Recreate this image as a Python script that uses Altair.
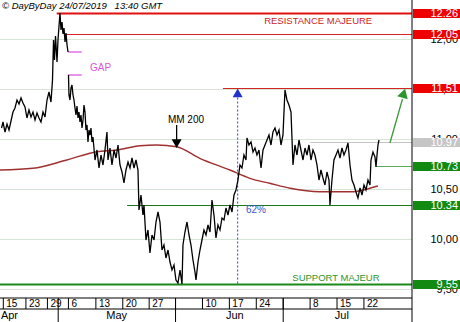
import altair as alt
import pandas as pd

# ---------------- data (x = trading-day index, 0 = 15 Apr 2019; y = price) -------------
pre_gap_t = [-0.33, -0.06, 0.32, 0.69, 1.06, 1.43, 1.80, 2.17, 2.55, 2.92, 3.29, 3.66, 4.03, 4.40,
             4.77, 5.15, 5.52, 5.89, 6.26, 6.63, 7.00, 7.38, 7.75, 8.12, 8.49, 8.86, 9.14, 9.33,
             9.51, 9.70, 9.98, 10.16, 10.53, 10.72, 10.91, 11.09, 11.28, 11.47, 11.65, 11.84, 12.02]
pre_gap_v = [11.115, 11.175, 11.075, 11.155, 11.095, 11.185, 11.275, 11.315, 11.395, 11.355, 11.415,
             11.365, 11.325, 11.215, 11.295, 11.225, 11.275, 11.195, 11.265, 11.215, 11.175, 11.275,
             11.225, 11.395, 11.475, 11.375, 11.595, 11.995, 11.795, 12.035, 11.775, 11.995, 12.265,
             12.095, 12.175, 12.055, 12.115, 11.975, 12.065, 11.945, 11.875]

post_gap_t = [12.11, 12.20, 12.39, 12.58, 12.76, 12.95, 13.13, 13.32, 13.50, 13.69, 13.88, 14.06, 14.25,
              14.43, 14.62, 14.81, 14.99, 15.18, 15.36, 15.55, 15.73, 15.92, 16.11, 16.29, 16.48, 16.66,
              17.04, 17.41, 17.78, 18.15, 18.52, 18.89, 19.26, 19.45, 19.82, 20.19, 20.57, 20.94, 21.31,
              21.68, 22.05, 22.42, 22.79, 23.17, 23.54, 23.91, 24.28, 24.65, 25.02, 25.21, 25.58, 25.95,
              26.14, 26.51, 26.88, 27.25, 27.62, 28.00, 28.37, 28.74, 29.11, 29.48, 29.85, 30.22, 30.60,
              30.97, 31.34, 31.71, 32.08, 32.45, 32.83, 33.20, 33.38, 33.75, 34.13, 34.50, 34.87, 35.24,
              35.61, 35.80, 36.17, 36.54, 36.91, 37.28, 37.66, 38.03, 38.40, 38.77, 39.14, 39.51, 39.88,
              40.26, 40.63, 41.00, 41.37, 41.74, 42.11, 42.49, 42.86, 43.23, 43.60, 43.97, 44.34, 44.71,
              45.09, 45.27, 45.64, 46.02, 46.39, 46.76, 47.13, 47.50, 47.88, 48.25, 48.62, 48.99, 49.36,
              49.73, 50.10, 50.48, 50.85, 51.22, 51.59, 51.96, 52.33, 52.70, 53.07, 53.45, 53.82, 54.19,
              54.56, 54.93, 55.30, 55.68, 56.05, 56.42, 56.79, 57.16, 57.53, 57.90, 58.28, 58.65, 59.02,
              59.39, 59.76, 60.13, 60.51, 60.69, 61.06, 61.43, 61.81, 62.18, 62.55, 62.92, 63.29, 63.66,
              64.04, 64.41, 64.78, 65.15, 65.52, 65.89, 66.27, 66.64, 67.01, 67.38, 67.75, 68.12, 68.31,
              68.68, 69.05, 69.24, 69.43, 69.61, 69.80]
post_gap_v = [11.645, 11.445, 11.395, 11.515, 11.545, 11.445, 11.395, 11.315, 11.245, 11.335, 11.215,
              11.275, 11.175, 11.245, 11.115, 11.195, 11.345, 11.275, 11.095, 11.145, 10.975, 11.095,
              11.045, 11.115, 10.975, 11.025, 10.795, 10.895, 10.715, 10.845, 10.745, 10.895, 11.075,
              10.795, 10.915, 10.745, 10.895, 10.815, 10.945, 10.745, 10.675, 10.565, 10.695, 10.775,
              10.715, 10.815, 10.715, 10.795, 10.695, 10.295, 10.445, 10.245, 10.345, 9.995, 10.095,
              9.865, 10.045, 9.995, 10.175, 10.275, 10.175, 9.895, 9.945, 9.815, 9.895, 9.775, 9.695,
              9.745, 9.595, 9.565, 9.695, 9.555, 9.945, 10.075, 10.175, 10.045, 9.945, 9.795, 9.675,
              9.595, 9.775, 9.895, 9.995, 10.095, 10.045, 10.145, 10.075, 10.395, 10.245, 10.015, 10.145,
              10.095, 10.215, 10.195, 10.315, 10.245, 10.345, 10.275, 10.445, 10.495, 10.595, 10.745,
              10.715, 10.845, 10.795, 11.015, 10.945, 10.975, 10.875, 10.915, 10.845, 10.895, 10.715,
              10.895, 10.945, 10.995, 11.045, 10.945, 11.075, 11.115, 11.045, 11.095, 10.945, 11.045,
              11.495, 11.395, 11.345, 11.275, 10.745, 10.945, 10.845, 10.995, 10.895, 10.795, 10.915,
              10.845, 10.945, 10.795, 10.895, 10.845, 10.745, 10.595, 10.695, 10.615, 10.545, 10.675,
              10.595, 10.345, 10.595, 10.795, 10.845, 10.895, 10.815, 10.915, 10.845, 10.895, 10.965,
              10.745, 10.595, 10.545, 10.475, 10.415, 10.515, 10.445, 10.545, 10.495, 10.595, 10.545,
              10.795, 10.875, 10.825, 10.725, 10.845, 10.945, 10.995]

mm200_t = [-0.61, 5.5, 11.8, 17.35, 21.07, 25.4, 28.5, 32.2, 36.5, 42.1, 45.8, 49.5, 53.3, 58.8, 65.0, 68.1, 69.6]
mm200_v = [10.695, 10.712, 10.795, 10.878, 10.895, 10.938, 10.945, 10.928, 10.812, 10.695, 10.612,
           10.562, 10.512, 10.478, 10.478, 10.512, 10.535]

level_value = [12.26, 12.05, 11.51, 10.97, 10.73, 10.34, 9.55]
level_label = ["12.26", "12.05", "11.51", "10.97", "10.73", "10.34", "9.55"]
level_start = [9.92, 11.46, 40.8, 57.0, 69.24, 23.0, -0.61]
level_color = ["#e01010", "#d42424", "#d42424", "#c4c4c4", "#5aaa5a", "#1a7a1a", "#1a8a1a"]
level_width = [2.0, 1.2, 1.2, 1.0, 1.2, 1.2, 2.2]
box_color = ["#ee0000", "#ee0000", "#ee0000", "#c6c6c6", "#128a12", "#128a12", "#128a12"]

gap_values = [11.875, 11.645]
gap_start, gap_end = 12.02, 14.56

week_t = [0, 4.2, 8.2, 12.1, 17.2, 22.2, 27.1, 32, 37, 42, 47, 52, 57, 62, 67]
week_label = ["15", "23", "29", "6", "13", "20", "27", "", "10", "17", "24", "", "8", "15", "22"]
month_sep_t = [10.2, 32, 52]
month_label = ["Apr", "May", "Jun", "Jul"]
month_t = [-0.45, 21.07, 43.0, 62.9]

y_ticks = [9.5, 10.0, 10.5, 11.0, 11.5, 12.0]
y_tick_labels = ["9,50", "10,00", "10,50", "11,00", "11,50", "12,00"]

X_DOMAIN = [-0.613, 75.93]
Y_DOMAIN = [9.415, 12.395]

# ---------------- frames -------------
price = pd.concat([
    pd.DataFrame({"t": pre_gap_t, "v": pre_gap_v, "seg": "a"}),
    pd.DataFrame({"t": post_gap_t, "v": post_gap_v, "seg": "b"}),
])
mm = pd.DataFrame({"t": mm200_t, "v": mm200_v})
levels = pd.DataFrame({"v": level_value, "label": level_label, "t": level_start,
                       "t2": [X_DOMAIN[1]] * len(level_value), "color": level_color,
                       "w": level_width, "box": box_color})
levels["top"] = levels["v"] + 0.046
levels["bot"] = levels["v"] - 0.046
gaps = pd.DataFrame({"v": gap_values, "t": [gap_start] * 2, "t2": [gap_end] * 2})
weeks = pd.DataFrame({"t": week_t, "label": week_label})
seps = pd.DataFrame({"t": month_sep_t})
months = pd.DataFrame({"t": month_t, "label": month_label})
yt = pd.DataFrame({"v": y_ticks, "label": y_tick_labels,
                   "t": [X_DOMAIN[0]] * len(y_ticks), "t2": [X_DOMAIN[1]] * len(y_ticks)})

xs = alt.Scale(domain=X_DOMAIN, nice=False, zero=False)
ys = alt.Scale(domain=Y_DOMAIN, nice=False, zero=False)


def X(f="t"):
    return alt.X(f + ":Q", scale=xs, axis=None)


def Y(f="v"):
    return alt.Y(f + ":Q", scale=ys, axis=None)


FONT = "Liberation Sans"

grid = alt.Chart(yt).mark_rule(color="#d6e6d6", strokeWidth=1).encode(x=X(), x2="t2:Q", y=Y())
y_labels = alt.Chart(yt).mark_text(align="right", baseline="middle", font=FONT, fontSize=11,
                                   color="black").encode(x=alt.value(458), y=Y(), text="label:N")

price_line = alt.Chart(price).mark_line(color="black", strokeWidth=1.3).encode(
    x=X(), y=Y(), detail="seg:N")

mm_line = alt.Chart(mm).mark_line(color="#a03030", strokeWidth=1.4, interpolate="monotone").encode(
    x=X(), y=Y())

level_lines = alt.Chart(levels).mark_rule().encode(
    x=X(), x2="t2:Q", y=Y(),
    color=alt.Color("color:N", scale=None),
    strokeWidth=alt.StrokeWidth("w:Q", scale=None))

gap_lines = alt.Chart(gaps).mark_rule(color="#e070e0", strokeWidth=1.5).encode(
    x=X(), x2="t2:Q", y=Y())

boxes = alt.Chart(levels).mark_rect().encode(
    x=alt.value(413), x2=alt.value(460), y=Y("top"), y2="bot:Q",
    color=alt.Color("box:N", scale=None))

box_text = alt.Chart(levels).mark_text(align="right", baseline="middle", font=FONT, fontSize=11,
                                       color="white").encode(
    x=alt.value(458), y=Y(), text="label:N")


def note(text, t, v, color, size=10, align="left", **kw):
    return alt.Chart(pd.DataFrame({"t": [t], "v": [v], "s": [text]})).mark_text(
        align=align, baseline="middle", font=FONT, fontSize=size, color=color, **kw).encode(
        x=X(), y=Y(), text="s:N")


notes = [
    note("GAP", 16.1, 11.715, "#dd55dd", 10),
    note("RESISTANCE MAJEURE", 58.5, 12.19, "#cc2222", 9.5, "center"),
    note("SUPPORT MAJEUR", 61.8, 9.62, "#2e962e", 9.5, "center"),
    note("MM 200", 33.94, 11.195, "black", 10, "center"),
    note("62%", 45.09, 10.295, "#3355cc", 10),
]

mm_arrow = alt.Chart(pd.DataFrame({"t": [32.2], "v": [11.145], "v2": [10.99]})).mark_rule(
    color="black", strokeWidth=1.3).encode(x=X(), y=Y(), y2="v2:Q")
mm_head = alt.Chart(pd.DataFrame({"t": [32.2], "v": [10.958]})).mark_point(
    shape="triangle-down", filled=True, color="black", size=100, opacity=1).encode(x=X(), y=Y())

fib_line = alt.Chart(pd.DataFrame({"t": [43.54], "v": [11.42], "v2": [9.56]})).mark_rule(
    color="#3344bb", strokeWidth=1, strokeDash=[2, 2]).encode(x=X(), y=Y(), y2="v2:Q")
fib_head = alt.Chart(pd.DataFrame({"t": [43.54], "v": [11.467]})).mark_point(
    shape="triangle-up", filled=True, color="#2233cc", size=100, opacity=1).encode(x=X(), y=Y())

target_line = alt.Chart(pd.DataFrame({"t": [71.83], "v": [10.965], "t2": [74.16], "v2": [11.405]})).mark_rule(
    color="#3a9a3a", strokeWidth=1.3).encode(x=X(), y=Y(), x2="t2:Q", y2="v2:Q")
target_head = alt.Chart(pd.DataFrame({"t": [74.40], "v": [11.463]})).mark_point(
    shape="triangle-up", filled=True, color="#2e962e", size=120, angle=16, opacity=1).encode(x=X(), y=Y())

# bottom axis
one = pd.DataFrame({"a": [0]})
top_line = alt.Chart(one).mark_rule(color="black", strokeWidth=1).encode(
    x=alt.value(0), x2=alt.value(412), y=alt.value(298))
row_line = alt.Chart(one).mark_rule(color="black", strokeWidth=1).encode(
    x=alt.value(0), x2=alt.value(412), y=alt.value(309))
right_line = alt.Chart(one).mark_rule(color="black", strokeWidth=1).encode(
    x=alt.value(412), y=alt.value(0), y2=alt.value(322))
week_ticks = alt.Chart(weeks).mark_rule(color="black", strokeWidth=1).encode(
    x=X(), y=alt.value(298), y2=alt.value(309))
sep_lines = alt.Chart(seps).mark_rule(color="black", strokeWidth=1).encode(
    x=X(), y=alt.value(298), y2=alt.value(322))
week_text = alt.Chart(weeks).mark_text(align="left", baseline="middle", dx=3, font=FONT,
                                       fontSize=10, color="black").encode(
    x=X(), y=alt.value(304), text="label:N")
month_first = alt.Chart(months.iloc[:1]).mark_text(align="left", baseline="middle", font=FONT,
                                                  fontSize=11, color="black").encode(
    x=X(), y=alt.value(316), text="label:N")
month_rest = alt.Chart(months.iloc[1:]).mark_text(align="center", baseline="middle", font=FONT,
                                                 fontSize=11, color="black").encode(
    x=X(), y=alt.value(316), text="label:N")

title = alt.Chart(pd.DataFrame({"s": ["© DayByDay 24/07/2019\u00a0\u00a0 13:40 GMT"]})).mark_text(
    align="left", baseline="middle", font=FONT, fontSize=9.5, fontStyle="italic",
    color="black").encode(x=alt.value(2), y=alt.value(6), text="s:N")

chart = alt.layer(
    grid, y_labels, level_lines, gap_lines, mm_line, fib_line, price_line, target_line,
    target_head, fib_head, mm_arrow, mm_head, *notes, boxes, box_text,
    top_line, row_line, week_ticks, sep_lines, right_line, week_text, month_first, month_rest, title,
).properties(
    width=412, height=298,
    autosize=alt.AutoSizeParams(type="none"),
    padding={"left": 0, "top": 0, "right": 48, "bottom": 24},
    background="white",
).configure_view(strokeWidth=0)

chart.save("out.html", embed_options={"renderer": "svg", "actions": False})
